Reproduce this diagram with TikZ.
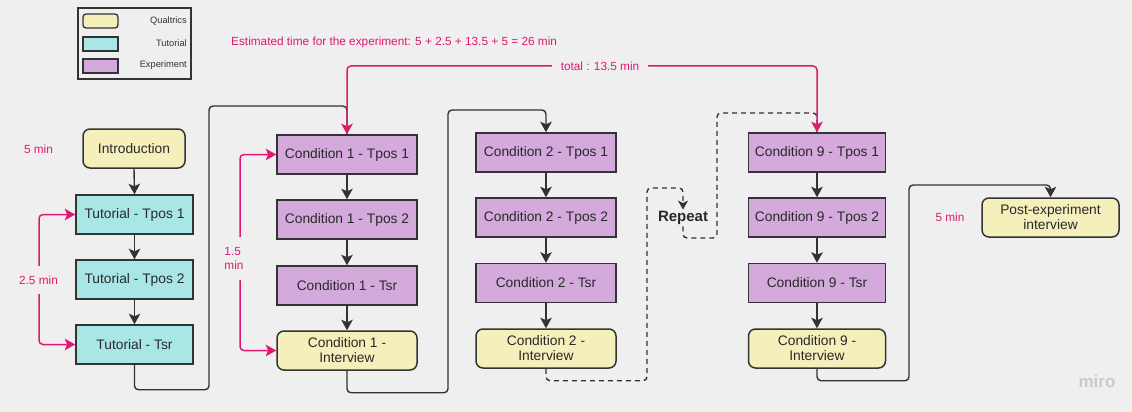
\documentclass[tikz,border=0pt]{standalone}
\usepackage{fontspec}
\setmainfont{Liberation Sans}
\usetikzlibrary{arrows.meta}
\definecolor{bg}{HTML}{EFEFEF}
\definecolor{qyel}{HTML}{F5EFBC}
\definecolor{tcyan}{HTML}{A9E6E6}
\definecolor{epurp}{HTML}{D4A9DC}
\definecolor{edge}{HTML}{333333}
\definecolor{mag}{HTML}{E0186F}
\definecolor{mirogray}{HTML}{C9C9D2}
\begin{document}
\begin{tikzpicture}[x=1pt,y=-1pt,
  box/.style={draw=edge, line width=1.5pt, minimum height=39pt, inner sep=0pt, text=edge!80!black, font=\fontsize{13.8}{15}\selectfont, align=center},
  qbox/.style={box, fill=qyel, rounded corners=7pt},
  tbox/.style={box, fill=tcyan, minimum width=117pt},
  ebox/.style={box, fill=epurp},
  swatch/.style={draw=edge, line width=1.3pt},
  legtext/.style={text=edge, font=\fontsize{9.3}{11}\selectfont, anchor=east, inner sep=0pt},
  conn/.style={draw=edge, line width=1.4pt, rounded corners=4pt},
  arr/.style={-{Stealth[length=10.5pt,width=11.5pt,inset=2.5pt]}},
  dashconn/.style={conn, dash pattern=on 5pt off 4pt},
  redc/.style={draw=mag, line width=1.5pt, rounded corners=4pt, {Stealth[length=10.5pt,width=11.5pt,inset=2.5pt]}-{Stealth[length=10.5pt,width=11.5pt,inset=2.5pt]}},
  redlab/.style={text=mag, font=\fontsize{11.8}{14}\selectfont, inner sep=0pt},
]
\useasboundingbox (0,0) rectangle (1132,412);
\fill[bg] (0,0) rectangle (1132,412);

% legend
\node[draw=edge, line width=1.3pt, minimum width=113pt, minimum height=71pt, inner sep=0pt] (legend) at (134.5,43.5) {};
\node[swatch, fill=qyel, rounded corners=3pt, minimum width=35pt, minimum height=14pt, inner sep=0pt] (lq) at (100.5,21) {};
\node[swatch, fill=tcyan, minimum width=35pt, minimum height=14pt, inner sep=0pt] (lt) at (100.5,44) {};
\node[swatch, fill=epurp, minimum width=35pt, minimum height=14pt, inner sep=0pt] (le) at (100.5,66) {};
\node[legtext] (lqt) at (187,21) {Qualtrics};
\node[legtext] (ltt) at (187,43) {Tutorial};
\node[legtext] (let) at (187,65) {Experiment};

\node[redlab, anchor=west] (est) at (231,42) {Estimated time for the experiment: 5 + 2.5 + 13.5 + 5 = 26 min};

% tutorial column
\node[qbox, minimum width=102pt] (intro) at (134,148.5) {Introduction};
\node[tbox] (t1) at (134.5,214.5) {Tutorial - Tpos 1};
\node[tbox] (t2) at (134.5,279.5) {Tutorial - Tpos 2};
\node[tbox] (t3) at (134.5,344.5) {Tutorial - Tsr};
\node[redlab] (m5a) at (38.5,149) {5 min};

% condition 1
\node[ebox, minimum width=140pt] (c1a) at (347,154.5) {Condition 1 - Tpos 1};
\node[ebox, minimum width=140pt] (c1b) at (347,219.5) {Condition 1 - Tpos 2};
\node[ebox, minimum width=140pt] (c1c) at (347,285.5) {Condition 1 - Tsr};
\node[qbox, minimum width=140pt] (c1d) at (347,350.5) {Condition 1 -\\Interview};

% condition 2
\node[ebox, minimum width=140pt] (c2a) at (546,152.5) {Condition 2 - Tpos 1};
\node[ebox, minimum width=140pt] (c2b) at (546,217.5) {Condition 2 - Tpos 2};
\node[ebox, minimum width=140pt] (c2c) at (546,283) {Condition 2 - Tsr};
\node[qbox, minimum width=140pt] (c2d) at (546,348.5) {Condition 2 -\\Interview};

% repeat
\node[text=edge!80!black, font=\bfseries\fontsize{15}{17}\selectfont, inner sep=1.5pt] (rep) at (683,218) {Repeat};

% condition 9
\node[ebox, minimum width=137pt] (c9a) at (817,152.5) {Condition 9 - Tpos 1};
\node[ebox, minimum width=137pt] (c9b) at (817,217.5) {Condition 9 - Tpos 2};
\node[ebox, minimum width=137pt] (c9c) at (817,283) {Condition 9 - Tsr};
\node[qbox, minimum width=137pt] (c9d) at (817,348.5) {Condition 9 -\\Interview};

% post
\node[qbox, minimum width=137pt] (post) at (1050.5,217.5) {Post-experiment\\interview};
\node[redlab] (m5b) at (950,217) {5 min};

\node[text=mirogray, font=\bfseries\fontsize{17}{17}\selectfont, inner sep=0pt] (miro) at (1097,381) {miro};

% vertical arrows
\draw[conn,arr] (intro.south) -- (t1.north);
\draw[conn,arr] (t1.south) -- (t2.north);
\draw[conn,arr] (t2.south) -- (t3.north);
\draw[conn,arr] (c1a.south) -- (c1b.north);
\draw[conn,arr] (c1b.south) -- (c1c.north);
\draw[conn,arr] (c1c.south) -- (c1d.north);
\draw[conn,arr] (c2a.south) -- (c2b.north);
\draw[conn,arr] (c2b.south) -- (c2c.north);
\draw[conn,arr] (c2c.south) -- (c2d.north);
\draw[conn,arr] (c9a.south) -- (c9b.north);
\draw[conn,arr] (c9b.south) -- (c9c.north);
\draw[conn,arr] (c9c.south) -- (c9d.north);

% column links
\draw[conn] (t3.south) -- ++(0,25) -| (209,106) -| (c1a.north);
\draw[conn,arr] (c1d.south) -- ++(0,22) -| (448,110) -| (c2a.north);
\draw[dashconn,-{Stealth[length=9pt,width=10pt,inset=2.5pt]}] (c2d.south) -- ++(0,12) -| (647,188) -| (rep.north);
\draw[dashconn] (rep.south) |- (717,238) -- (717,113) -| (c9a.north);
\draw[conn,arr] (c9d.south) -- ++(0,12) -| (909,185) -| (post.north);

% red timing brackets
\draw[redc] (t1.west) -| (39,280) |- (t3.west);
\node[redlab, fill=bg, minimum height=28pt] (m25) at (38.5,280) {2.5 min};
\draw[redc] (c1a.west) -| (240,258) |- (c1d.west);
\node[redlab, fill=bg, align=left, minimum height=43pt, font=\fontsize{11.8}{14}\selectfont] (m15) at (234,258.5) {1.5\\min};
\draw[redc] (c1a.north) |- (600,66) -| (c9a.north);
\node[redlab, fill=bg, inner xsep=9pt, inner ysep=2pt] (tot) at (600,66) {total : 13.5 min};
\end{tikzpicture}
\end{document}
